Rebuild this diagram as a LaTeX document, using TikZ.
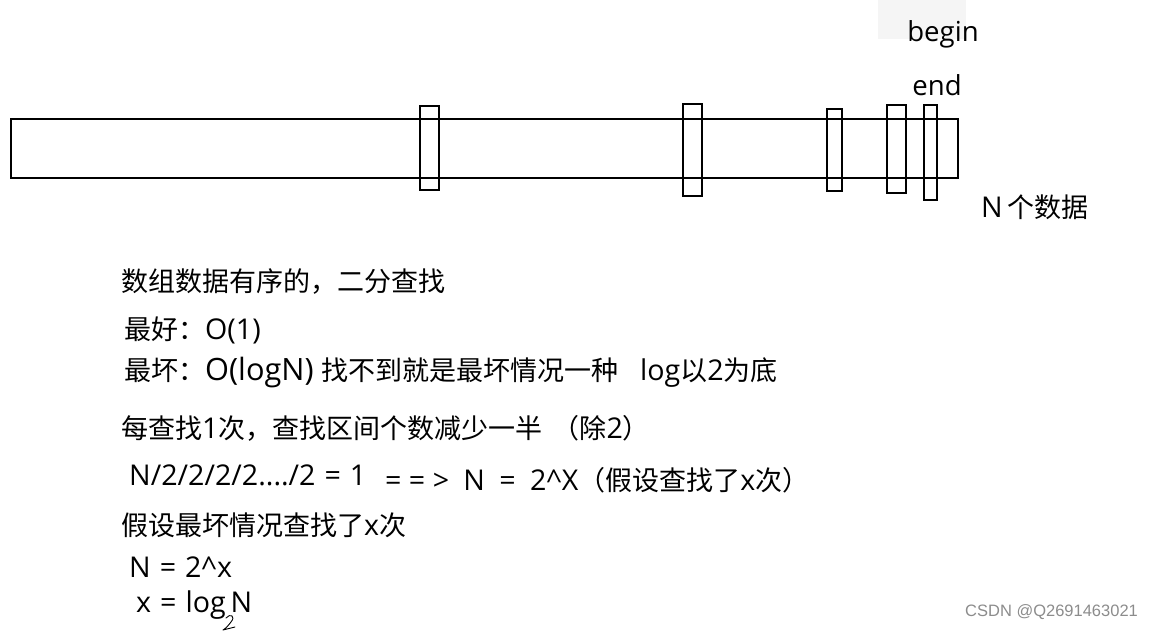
\documentclass[tikz,border=0pt]{standalone}
\usepackage{fontspec}
\setmainfont[Scale=1.06]{Open Sans}
\newfontfamily\cjk{Noto Sans CJK SC}
\newfontfamily\wmfont{Liberation Sans}
\newcommand{\zh}[1]{{\cjk #1}}
\newcommand{\eqsp}{\hspace{9pt}}
\begin{document}
\begin{tikzpicture}[x=1pt,y=-1pt,
  bar/.style={draw=black,line width=1.4pt},
  txt/.style={anchor=west,inner sep=0pt,font=\fontsize{27}{27}\selectfont},
  lbl/.style={anchor=center,inner sep=0pt,font=\fontsize{26}{26}\selectfont}]
\useasboundingbox (0,0) rectangle (1154,631);
\fill[black!4] (878,0) rectangle (966,39);
% array
\draw[bar] (11,119) rectangle (958,178);
\draw[bar] (420,106) rectangle (439,190);
\draw[bar] (683,104) rectangle (702,196);
\draw[bar] (827,109) rectangle (842,191);
\draw[bar] (887,105) rectangle (906,193);
\draw[bar] (924,105) rectangle (937,200);
\node[lbl] (begin) at (943,34) {begin};
\node[lbl] (end) at (937,85) {end};
\node[txt] (n) at (981,207) {N\,\zh{个数据}};
% notes
\node[txt] (t1) at (121,282) {\zh{数组数据有序的，二分查找}};
\node[txt] (t2) at (124,330) {\zh{最好：}O(1)};
\node[txt] (t3) at (124,373) {\zh{最坏：}{\fontsize{29}{29}\selectfont O(logN)} \zh{找不到就是最坏情况一种}\hspace{22pt}log\zh{以}2\zh{为底}};
\node[txt] (t4) at (121,428) {\zh{每查找}1\zh{次，查找区间个数减少一半\hspace{10pt}（除}2\zh{）}};
\node[txt] (t5) at (129,475) {N/2/2/2/2..../2\eqsp=\eqsp1};
\node[txt] (t6) at (385,480) {= = >\enspace N\enspace=\enspace2\^{}X\zh{（假设查找了}x\zh{次）}};
\node[txt] (t7) at (121,525) {\zh{假设最坏情况查找了}x\zh{次}};
\node[txt] (t8) at (129,567) {N\eqsp=\eqsp2\^{}x};
\node[txt] (t9) at (136,605) {x\eqsp=\eqsp log\,N};
\draw[line width=0.9pt,line cap=round,line join=round] (226,618) .. controls (230,613) and (236,616) .. (231,622) .. controls (228,626) and (225,629) .. (223,630) -- (235,627);
\node[anchor=west,inner sep=0pt,text=black!45,font=\wmfont\fontsize{16.5}{16.5}\selectfont] (wm) at (965,612) {CSDN @Q2691463021};
\end{tikzpicture}
\end{document}
